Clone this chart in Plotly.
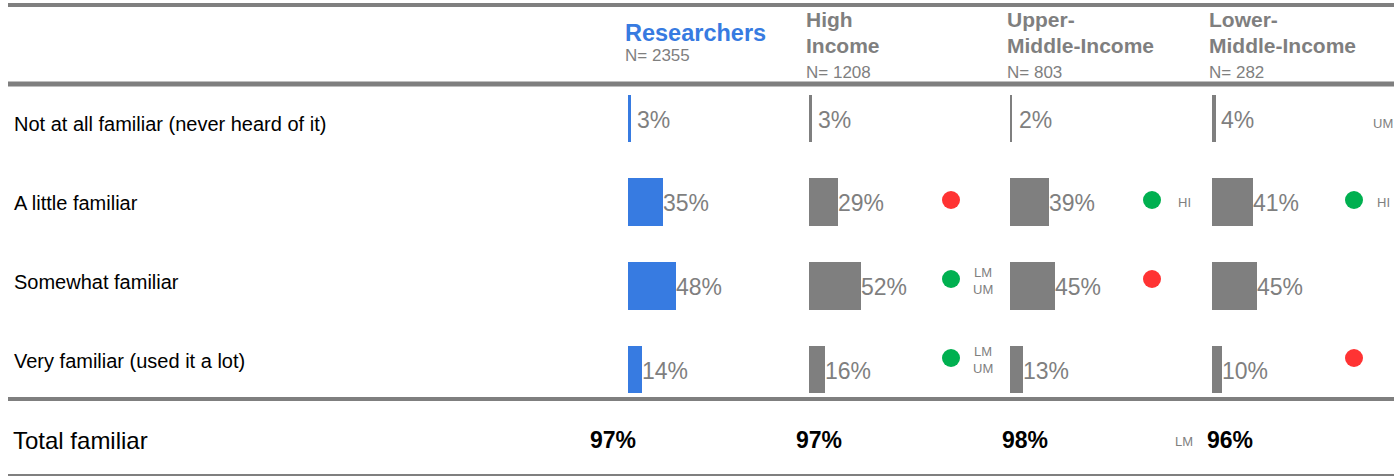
import plotly.graph_objects as go

# ---------------- data ----------------
categories = [
    "Not at all familiar (never heard of it)",
    "A little familiar",
    "Somewhat familiar",
    "Very familiar (used it a lot)",
]
group_title_lines = [["Researchers"], ["High", "Income"], ["Upper-", "Middle-Income"], ["Lower-", "Middle-Income"]]
n_values = [2355, 1208, 803, 282]

researchers = [3, 35, 48, 14]
high_income = [3, 29, 52, 16]
upper_middle = [2, 39, 45, 13]
lower_middle = [4, 41, 45, 10]

total_familiar = [97, 97, 98, 96]

# significance markers: "up" (green), "down" (red), None
sig_researchers = [None, None, None, None]
sig_high = [None, "down", "up", "up"]
sig_upper = [None, "up", "down", None]
sig_lower = [None, "up", None, "down"]

# which groups it differs from
cmp_researchers = ["", "", "", ""]
cmp_high = ["", "", "LM<br>UM", "LM<br>UM"]
cmp_upper = ["", "HI", "", ""]
cmp_lower = ["UM", "HI", "", ""]
cmp_total = ["", "", "LM", ""]

# ---------------- style ----------------
W, H = 1394, 476
FONT = "Liberation Sans, Arial, sans-serif"
BLUE = "#377BE1"
GREY = "#7F7F7F"
RED = "#FF3333"
GREEN = "#00B050"
col_px = [628, 809, 1010, 1212]          # left edge of each column (px)
total_px = [613, 819, 1025, 1230]         # centre of total values (px)
sig_x = 142                               # dot offset in column units (1 unit = 1 px)
bar_rows_px = (118.5, 83.67)              # first bar row centre, row pitch
label_rows_px = (121, 79)                 # first label/dot row centre, row pitch

series = [researchers, high_income, upper_middle, lower_middle]
sigs = [sig_researchers, sig_high, sig_upper, sig_lower]
cmps = [cmp_researchers, cmp_high, cmp_upper, cmp_lower]
colors = [BLUE, GREY, GREY, GREY]


def px(x):
    return x / W


def py(y):
    return 1 - y / H


def yrange(first, pitch):
    top = (0 - first) / pitch
    bottom = (H - first) / pitch
    return [bottom, top]


fig = go.Figure()
layout = dict(
    width=W, height=H,
    margin=dict(l=0, r=0, t=0, b=0),
    paper_bgcolor="white", plot_bgcolor="rgba(0,0,0,0)",
    showlegend=False, bargap=0,
    font=dict(family=FONT),
    yaxis=dict(type="category", categoryarray=categories, range=yrange(*bar_rows_px),
               domain=[0, 1], visible=False, fixedrange=True),
    yaxis2=dict(type="category", categoryarray=categories, range=yrange(*label_rows_px),
                overlaying="y", visible=False, fixedrange=True),
)

annotations = []
for i, (vals, sg, cm, colr) in enumerate(zip(series, sigs, cmps, colors)):
    xname = "x" if i == 0 else f"x{i+1}"
    axkey = "xaxis" if i == 0 else f"xaxis{i+1}"
    wpx = min(200, W - col_px[i])
    layout[axkey] = dict(domain=[px(col_px[i]), px(col_px[i] + wpx)], range=[0, wpx],
                         visible=False, fixedrange=True, anchor="y")
    fig.add_trace(go.Bar(x=vals, y=categories, orientation="h", xaxis=xname, yaxis="y",
                         width=0.57, marker=dict(color=colr, line=dict(width=0)),
                         hoverinfo="skip"))
    # value labels
    for c, v in zip(categories, vals):
        annotations.append(dict(xref=xname, yref="y", x=max(v, 9), y=c, text=f"{v}%",
                                xanchor="left", yanchor="middle", showarrow=False, xshift=-2,
                                yshift=-1, font=dict(size=23, color=GREY, family=FONT)))
    # significance dots
    dy = [c for c, s in zip(categories, sg) if s]
    dc = [GREEN if s == "up" else RED for s in sg if s]
    if dy:
        fig.add_trace(go.Scatter(x=[sig_x] * len(dy), y=dy, xaxis=xname, yaxis="y2",
                                 mode="markers", marker=dict(size=18, color=dc, line=dict(width=0)),
                                 hoverinfo="skip"))
    lab_x = min(sig_x + 32, wpx - 11)
    for c, t in zip(categories, cm):
        if t:
            annotations.append(dict(xref=xname, yref="y2", x=lab_x, y=c, text=t,
                                    xanchor="center", yanchor="middle", showarrow=False,
                                    yshift=-2, font=dict(size=13, color=GREY, family=FONT)))
    # header
    title_col = BLUE if i == 0 else GREY
    if i == 0:
        annotations.append(dict(xref="paper", yref="paper", x=px(col_px[i] - 3), y=py(33),
                                text=f"<b>{group_title_lines[i][0]}</b>", xanchor="left",
                                yanchor="middle", showarrow=False, xshift=-2,
                                font=dict(size=23.5, color=title_col, family=FONT)))
        annotations.append(dict(xref="paper", yref="paper", x=px(col_px[i] - 3), y=py(55),
                                text=f"N= {n_values[i]}", xanchor="left", yanchor="middle",
                                showarrow=False, xshift=-2,
                                font=dict(size=17, color=GREY, family=FONT)))
    else:
        for k, line in enumerate(group_title_lines[i]):
            annotations.append(dict(xref="paper", yref="paper", x=px(col_px[i] - 3),
                                    y=py(20 + 25 * k), text=f"<b>{line}</b>", xanchor="left",
                                    yanchor="middle", showarrow=False, xshift=-2,
                                    font=dict(size=21, color=title_col, family=FONT)))
        annotations.append(dict(xref="paper", yref="paper", x=px(col_px[i] - 3), y=py(72),
                                text=f"N= {n_values[i]}", xanchor="left", yanchor="middle",
                                showarrow=False, xshift=-2,
                                font=dict(size=17, color=GREY, family=FONT)))
    # totals
    annotations.append(dict(xref="paper", yref="paper", x=px(total_px[i]), y=py(440),
                            text=f"<b>{total_familiar[i]}%</b>", xanchor="center",
                            yanchor="middle", showarrow=False,
                            font=dict(size=23, color="black", family=FONT)))
    if cmp_total[i]:
        annotations.append(dict(xref="paper", yref="paper", x=px(col_px[i] + sig_x + 32),
                                y=py(441), text=cmp_total[i], xanchor="center",
                                yanchor="middle", showarrow=False,
                                font=dict(size=13, color=GREY, family=FONT)))

# row labels
for c in categories:
    annotations.append(dict(xref="paper", yref="y2", x=px(12), y=c, text=c, xanchor="left",
                            yanchor="middle", showarrow=False, yshift=-3,
                            font=dict(size=20, color="black", family=FONT)))
annotations.append(dict(xref="paper", yref="paper", x=px(12), y=py(440), text="Total familiar",
                        xanchor="left", yanchor="middle", showarrow=False, xshift=-1,
                        font=dict(size=24, color="black", family=FONT)))

shapes = []
for y, w in [(5, 4), (84, 5), (399, 4), (475, 2)]:
    shapes.append(dict(type="line", xref="paper", yref="paper", x0=px(8), x1=1,
                       y0=py(y), y1=py(y), line=dict(color=GREY, width=w)))

layout["annotations"] = annotations
layout["shapes"] = shapes
fig.update_layout(**layout)
fig.write_html("out.html")
